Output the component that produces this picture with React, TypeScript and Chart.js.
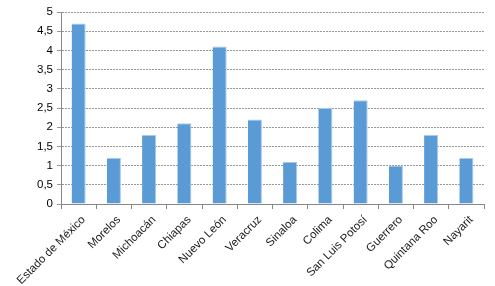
import React, { useEffect, useRef } from "react";
import { Chart, registerables } from "chart.js";

Chart.register(...registerables);

const categories = [
  "Estado de México",
  "Morelos",
  "Michoacán",
  "Chiapas",
  "Nuevo León",
  "Veracruz",
  "Sinaloa",
  "Colima",
  "San Luis Potosí",
  "Guerrero",
  "Quintana Roo",
  "Nayarit",
];
const values = [4.7, 1.2, 1.8, 2.1, 4.1, 2.2, 1.1, 2.5, 2.7, 1.0, 1.8, 1.2];
const yMin = 0;
const yMax = 5;
const yStep = 0.5;

const FONT = "'Liberation Sans', Arial, sans-serif";

export default function App() {
  const ref = useRef<HTMLCanvasElement | null>(null);
  useEffect(() => {
    if (!ref.current) return;
    const chart = new Chart(ref.current, {
      type: "bar",
      data: {
        labels: categories,
        datasets: [
          {
            data: values,
            backgroundColor: "#5B9BD5",
            borderColor: "#A9C9EA",
            borderWidth: { top: 1, right: 1, left: 0, bottom: 0 },
            categoryPercentage: 1,
            barPercentage: 0.4,
          },
        ],
      },
      options: {
        animation: false,
        responsive: false,
        maintainAspectRatio: false,
        layout: { padding: { top: 12, right: 11, left: 0, bottom: 0 } },
        plugins: { legend: { display: false }, tooltip: { enabled: false } },
        scales: {
          x: {
            afterFit: (s: any) => {
              s.height = 82;
            },
            grid: {
              offset: true,
              drawOnChartArea: false,
              drawTicks: true,
              tickLength: 5,
              color: "#888888",
            },
            border: { color: "#888888" },
            ticks: {
              color: "#1a1a1a",
              font: { family: FONT, size: 11.5 },
              maxRotation: 45,
              minRotation: 45,
              autoSkip: false,
              padding: 4,
              labelOffset: 5,
            },
          },
          y: {
            min: yMin,
            max: yMax,
            afterFit: (s: any) => {
              s.width = 61;
            },
            grid: {
              color: "#999999",
              tickLength: 4,
            },
            border: { color: "#888888", dash: [2, 1] },
            ticks: {
              stepSize: yStep,
              color: "#000000",
              font: { family: FONT, size: 11.5 },
              padding: 4,
              callback: (v: any) => String(v).replace(".", ","),
            },
          },
        },
      },
    });
    return () => chart.destroy();
  }, []);
  return (
    <div style={{ position: "fixed", left: 0, top: 0, width: 495, height: 286, background: "#fff" }}>
      <canvas ref={ref} width={495} height={286} />
    </div>
  );
}
